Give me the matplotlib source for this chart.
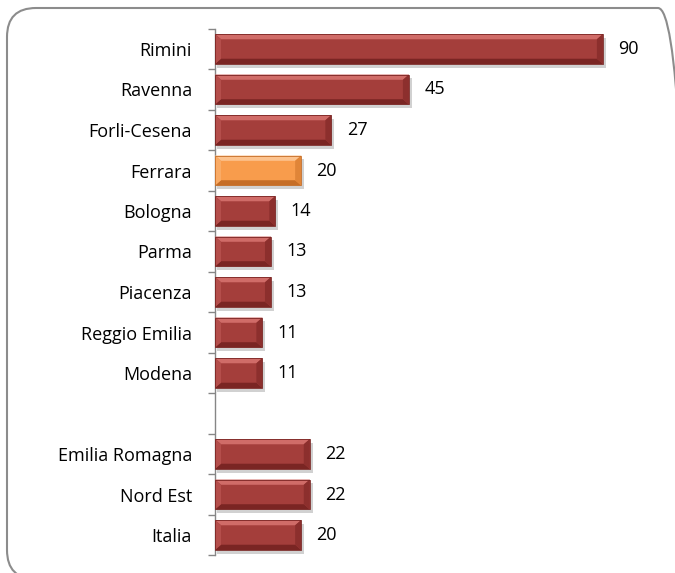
import matplotlib.pyplot as plt
from matplotlib.patches import Polygon, Rectangle, FancyBboxPatch
from matplotlib.transforms import IdentityTransform

plt.rcParams['font.family'] = ['Open Sans', 'DejaVu Sans']

# data, top to bottom (empty slot between provinces and aggregates)
categories = ['Rimini', 'Ravenna', 'Forli-Cesena', 'Ferrara', 'Bologna', 'Parma',
              'Piacenza', 'Reggio Emilia', 'Modena', '',
              'Emilia Romagna', 'Nord Est', 'Italia']
values = [90, 45, 27, 20, 14, 13, 13, 11, 11, None, 22, 22, 20]
highlight = 'Ferrara'

red = {'base': '#A43E3B', 'top': '#D06C68', 'bottom': '#7A2523',
       'right': '#8C2F2D', 'left': '#B44E4B'}
orange = {'base': '#F89C4C', 'top': '#FCC38F', 'bottom': '#C66E27',
          'right': '#E08538', 'left': '#F9AB66'}

fig = plt.figure(figsize=(6.75, 5.73), dpi=100)
ax = fig.add_axes([215 / 675, 1 - 555.25 / 573, (646 - 215) / 675, (555.25 - 28.75) / 573])

# rounded border around the chart (partly cut off at right and bottom)
border = FancyBboxPatch((7, -6), 680, 571,
                        boxstyle='round,pad=0,rounding_size=29',
                        transform=IdentityTransform(), fill=False,
                        edgecolor='#8C8C8C', linewidth=1.5, zorder=0)
fig.patches.append(border)

h = 0.74
bx = 1.4
by = 0.13


def bevel_bar(ax, y, v, c):
    top = y - h / 2
    bot = y + h / 2
    # shadow
    ax.add_patch(Rectangle((0.5, top + 0.09), v + 0.2, h, color='#000000',
                           alpha=0.18, lw=0, zorder=1))
    ax.add_patch(Rectangle((0, top), v, h, color=c['base'], lw=0, zorder=2))
    ax.add_patch(Polygon([(0, top), (v, top), (v - bx, top + by), (bx, top + by)],
                         closed=True, color=c['top'], lw=0, zorder=3))
    ax.add_patch(Polygon([(0, bot), (v, bot), (v - bx, bot - by), (bx, bot - by)],
                         closed=True, color=c['bottom'], lw=0, zorder=3))
    ax.add_patch(Polygon([(v, top), (v, bot), (v - bx, bot - by), (v - bx, top + by)],
                         closed=True, color=c['right'], lw=0, zorder=3))
    ax.add_patch(Polygon([(0, top), (0, bot), (bx, bot - by), (bx, top + by)],
                         closed=True, color=c['left'], lw=0, zorder=3))
    ax.add_patch(Rectangle((0, top), v, h, fill=False, edgecolor=c['bottom'],
                           lw=0.6, zorder=4))


for i, (cat, v) in enumerate(zip(categories, values)):
    if v is None:
        continue
    bevel_bar(ax, i, v, orange if cat == highlight else red)
    ax.annotate(str(v), (v, i), xytext=(11, 0), textcoords='offset points',
                ha='left', va='center', fontsize=13, color='black')

ax.set_xlim(0, 100)
ax.set_ylim(len(categories) - 0.5, -0.5)
ax.set_yticks(range(len(categories)))
ax.set_yticklabels(categories, fontsize=13)
ax.set_yticks([i - 0.5 for i in range(len(categories) + 1)], minor=True)
ax.tick_params(axis='y', which='major', length=0, pad=16.5)
ax.tick_params(axis='y', which='minor', length=5, color='#868686', width=1)
ax.set_xticks([])
for s in ['top', 'right', 'bottom']:
    ax.spines[s].set_visible(False)
ax.spines['left'].set_color('#868686')
ax.spines['left'].set_linewidth(1)
ax.patch.set_alpha(0)

plt.savefig('out.png', dpi=100)
